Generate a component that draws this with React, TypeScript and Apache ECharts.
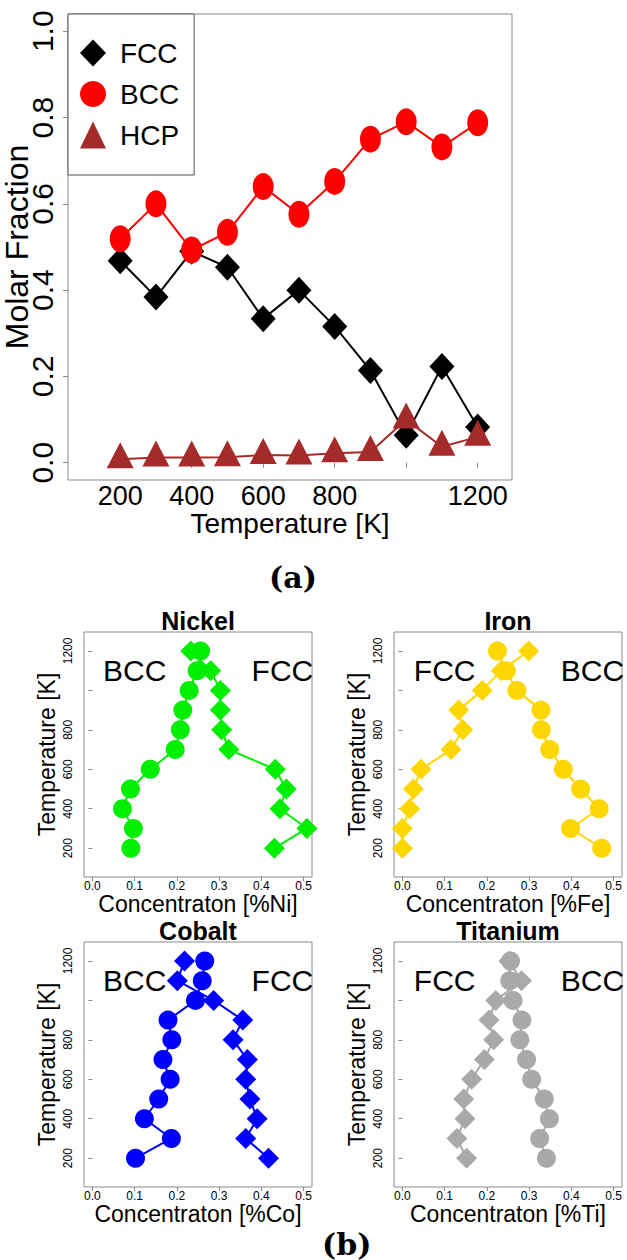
import React, { useEffect, useRef } from "react";
import * as echarts from "echarts";

// Temperatures shared by every panel (K)
const TEMPS = [200, 300, 400, 500, 600, 700, 800, 900, 1000, 1100, 1200];

// (a) molar fraction of each phase
const FCC_FRACTION = [0.468, 0.384, 0.49, 0.453, 0.334, 0.4, 0.316, 0.214, 0.064, 0.223, 0.083];
const BCC_FRACTION = [0.519, 0.6, 0.493, 0.534, 0.64, 0.576, 0.652, 0.75, 0.79, 0.732, 0.788];
const HCP_FRACTION = [0.008, 0.012, 0.012, 0.013, 0.018, 0.017, 0.022, 0.025, 0.1, 0.037, 0.06];

// (b) concentration of each element in the BCC and FCC phases
const NI_BCC = [0.091, 0.097, 0.071, 0.09, 0.137, 0.196, 0.208, 0.214, 0.229, 0.248, 0.256];
const NI_FCC = [0.431, 0.508, 0.444, 0.459, 0.433, 0.323, 0.306, 0.303, 0.303, 0.28, 0.233];
const FE_FCC = [0.0, 0.0, 0.017, 0.026, 0.044, 0.115, 0.143, 0.133, 0.189, 0.234, 0.299];
const FE_BCC = [0.472, 0.398, 0.466, 0.422, 0.381, 0.349, 0.329, 0.328, 0.271, 0.246, 0.225];
const CO_BCC = [0.102, 0.187, 0.123, 0.157, 0.184, 0.167, 0.188, 0.179, 0.244, 0.26, 0.266];
const CO_FCC = [0.417, 0.363, 0.39, 0.373, 0.363, 0.367, 0.333, 0.356, 0.287, 0.201, 0.218];
const TI_FCC = [0.152, 0.129, 0.148, 0.145, 0.164, 0.194, 0.216, 0.205, 0.221, 0.282, 0.252];
const TI_BCC = [0.341, 0.325, 0.348, 0.336, 0.306, 0.294, 0.278, 0.283, 0.262, 0.254, 0.256];

// Tick positions and labels
const TEMP_TICKS = [200, 400, 600, 800, 1000, 1200];
const TEMP_LABELS = [200, 400, 600, 800, 1200];
const FRACTION_TICKS = [0, 0.2, 0.4, 0.6, 0.8, 1.0];
const CONC_TICKS = [0, 0.1, 0.2, 0.3, 0.4, 0.5];

const FONT = "Liberation Sans, Arial, Helvetica, sans-serif";
const BOX = "#8a8a8a";

type Panel = {
  title: string;
  symbol: string;
  color: string;
  left: number;
  top: number;
  leftPhase: string;
  rightPhase: string;
  circles: number[];
  diamonds: number[];
};

const PANELS: Panel[] = [
  { title: "Nickel", symbol: "Ni", color: "#00ee00", left: 84, top: 632, leftPhase: "BCC", rightPhase: "FCC", circles: NI_BCC, diamonds: NI_FCC },
  { title: "Iron", symbol: "Fe", color: "#ffd700", left: 394, top: 632, leftPhase: "FCC", rightPhase: "BCC", circles: FE_BCC, diamonds: FE_FCC },
  { title: "Cobalt", symbol: "Co", color: "#0000ff", left: 84, top: 942, leftPhase: "BCC", rightPhase: "FCC", circles: CO_BCC, diamonds: CO_FCC },
  { title: "Titanium", symbol: "Ti", color: "#a9a9a9", left: 394, top: 942, leftPhase: "FCC", rightPhase: "BCC", circles: TI_BCC, diamonds: TI_FCC },
];

const PANEL_W = 228;
const PANEL_H = 245;

const plain = (v: number) => String(v);

function buildOption() {
  const grid: any[] = [
    {
      left: 68,
      top: 14,
      width: 444,
      height: 466,
      show: true,
      borderColor: BOX,
      borderWidth: 1,
      containLabel: false,
      outerBoundsMode: "none",
    },
  ];
  const xAxis: any[] = [
    {
      type: "value",
      gridIndex: 0,
      min: 54,
      max: 1296,
      splitLine: { show: false },
      axisLine: { show: false },
      axisTick: { show: true, length: 5, lineStyle: { color: BOX }, customValues: TEMP_TICKS },
      axisLabel: { customValues: TEMP_LABELS, fontSize: 27, fontFamily: FONT, color: "#000", margin: 2, formatter: plain },
      name: "Temperature [K]",
      nameLocation: "middle",
      nameGap: 29,
      nameMoveOverlap: false,
      nameTextStyle: { fontSize: 28, fontFamily: FONT, color: "#000" },
    },
  ];
  const yAxis: any[] = [
    {
      type: "value",
      gridIndex: 0,
      min: -0.04,
      max: 1.04,
      splitLine: { show: false },
      axisLine: { show: false },
      axisTick: { show: true, length: 5, lineStyle: { color: BOX }, customValues: FRACTION_TICKS },
      axisLabel: {
        customValues: FRACTION_TICKS,
        rotate: 90,
        fontSize: 30,
        fontFamily: FONT,
        color: "#000",
        margin: 11,
        formatter: (v: number) => v.toFixed(1),
      },
      name: "Molar Fraction",
      nameLocation: "middle",
      nameGap: 35,
      nameMoveOverlap: false,
      nameTextStyle: { fontSize: 32, fontFamily: FONT, color: "#000" },
    },
  ];

  const series: any[] = [
    {
      name: "FCC",
      type: "line",
      xAxisIndex: 0,
      yAxisIndex: 0,
      data: TEMPS.map((t, i) => [t, FCC_FRACTION[i]]),
      symbol: "diamond",
      symbolSize: [25, 27],
      color: "#000000",
      lineStyle: { width: 2, color: "#000000" },
    },
    {
      name: "BCC",
      type: "line",
      xAxisIndex: 0,
      yAxisIndex: 0,
      data: TEMPS.map((t, i) => [t, BCC_FRACTION[i]]),
      symbol: "circle",
      symbolSize: [21, 27],
      color: "#ff0000",
      lineStyle: { width: 2, color: "#ff0000" },
    },
    {
      name: "HCP",
      type: "line",
      xAxisIndex: 0,
      yAxisIndex: 0,
      data: TEMPS.map((t, i) => [t, HCP_FRACTION[i]]),
      symbol: "triangle",
      symbolSize: [27, 26],
      symbolOffset: [0, -4],
      color: "#a52a2a",
      lineStyle: { width: 2, color: "#a52a2a" },
    },
  ];

  const title: any[] = [];

  PANELS.forEach((p, k) => {
    const gi = k + 1;
    grid.push({
      left: p.left,
      top: p.top,
      width: PANEL_W,
      height: PANEL_H,
      show: true,
      borderColor: BOX,
      borderWidth: 1,
      containLabel: false,
      outerBoundsMode: "none",
    });
    xAxis.push({
      type: "value",
      gridIndex: gi,
      min: -0.02,
      max: 0.52,
      splitLine: { show: false },
      axisLine: { show: false },
      axisTick: { show: true, length: 4, lineStyle: { color: BOX }, customValues: CONC_TICKS },
      axisLabel: {
        customValues: CONC_TICKS,
        fontSize: 12,
        fontFamily: FONT,
        color: "#000",
        margin: 3,
        formatter: (v: number) => v.toFixed(1),
      },
      name: `Concentraton [%${p.symbol}]`,
      nameLocation: "middle",
      nameGap: 15,
      nameMoveOverlap: false,
      nameTextStyle: { fontSize: 23, fontFamily: FONT, color: "#000" },
    });
    yAxis.push({
      type: "value",
      gridIndex: gi,
      min: 54,
      max: 1296,
      splitLine: { show: false },
      axisLine: { show: false },
      axisTick: { show: true, length: 4, lineStyle: { color: BOX }, customValues: TEMP_TICKS },
      axisLabel: {
        customValues: TEMP_LABELS,
        rotate: 90,
        fontSize: 12,
        fontFamily: FONT,
        color: "#000",
        margin: 10,
        formatter: plain,
      },
      name: "Temperature [K]",
      nameLocation: "middle",
      nameGap: 26,
      nameMoveOverlap: false,
      nameTextStyle: { fontSize: 23, fontFamily: FONT, color: "#000" },
    });
    const common = {
      type: "line",
      xAxisIndex: gi,
      yAxisIndex: gi,
      color: p.color,
      lineStyle: { width: 2, color: p.color },
    };
    series.push({
      ...common,
      name: `${p.title} circles`,
      data: TEMPS.map((t, i) => [p.circles[i], t]),
      symbol: "circle",
      symbolSize: 19,
    });
    series.push({
      ...common,
      name: `${p.title} diamonds`,
      data: TEMPS.map((t, i) => [p.diamonds[i], t]),
      symbol: "diamond",
      symbolSize: 21,
    });
    // phase names written inside the panel
    series.push({
      type: "scatter",
      name: `${p.title} phases`,
      xAxisIndex: gi,
      yAxisIndex: gi,
      symbolSize: 0,
      itemStyle: { color: "#000000", opacity: 1 },
      data: [
        { value: [0.1, 1100], label: { formatter: p.leftPhase } },
        { value: [0.45, 1100], label: { formatter: p.rightPhase } },
      ],
      label: {
        show: true,
        position: "inside",
        fontSize: 30,
        fontFamily: FONT,
        color: "#000000",
        opacity: 1,
        textBorderWidth: 0,
      },
      silent: true,
    });
    title.push({
      text: p.title,
      left: p.left + PANEL_W / 2,
      top: p.top - 24,
      textAlign: "center",
      padding: 0,
      textStyle: { fontSize: 25, fontWeight: "bold", fontFamily: FONT, color: "#000" },
    });
  });

  return {
    animation: false,
    backgroundColor: "#ffffff",
    title,
    grid,
    xAxis,
    yAxis,
    series,
    legend: {
      show: true,
      left: 68,
      top: 14,
      orient: "vertical",
      data: [
        { name: "FCC", icon: "diamond" },
        { name: "BCC", icon: "circle" },
        { name: "HCP", icon: "triangle" },
      ],
      itemWidth: 26,
      itemHeight: 27,
      itemGap: 13,
      padding: [25, 15, 26, 12],
      borderColor: "#555555",
      borderWidth: 1,
      borderRadius: 0,
      backgroundColor: "#ffffff",
      selectedMode: false,
      textStyle: { fontSize: 28, fontFamily: FONT, color: "#000", padding: [0, 0, 0, 9] },
    },
    graphic: [
      {
        type: "text",
        left: 289 - 20,
        top: 562,
        style: { text: "(a)", fontSize: 30, fontWeight: "bold", fontFamily: "DejaVu Serif, serif", fill: "#000" },
      },
      {
        type: "text",
        left: 347 - 25,
        top: 1229,
        style: { text: "(b)", fontSize: 30, fontWeight: "bold", fontFamily: "DejaVu Serif, serif", fill: "#000" },
      },
    ],
  };
}

export default function App() {
  const ref = useRef<HTMLDivElement>(null);
  useEffect(() => {
    document.body.style.margin = "0";
    document.body.style.background = "#ffffff";
    if (!ref.current) return;
    const chart = echarts.init(ref.current, undefined, { renderer: "svg" });
    chart.setOption(buildOption() as any);
    return () => chart.dispose();
  }, []);
  return <div ref={ref} style={{ width: 627, height: 1260 }} />;
}
